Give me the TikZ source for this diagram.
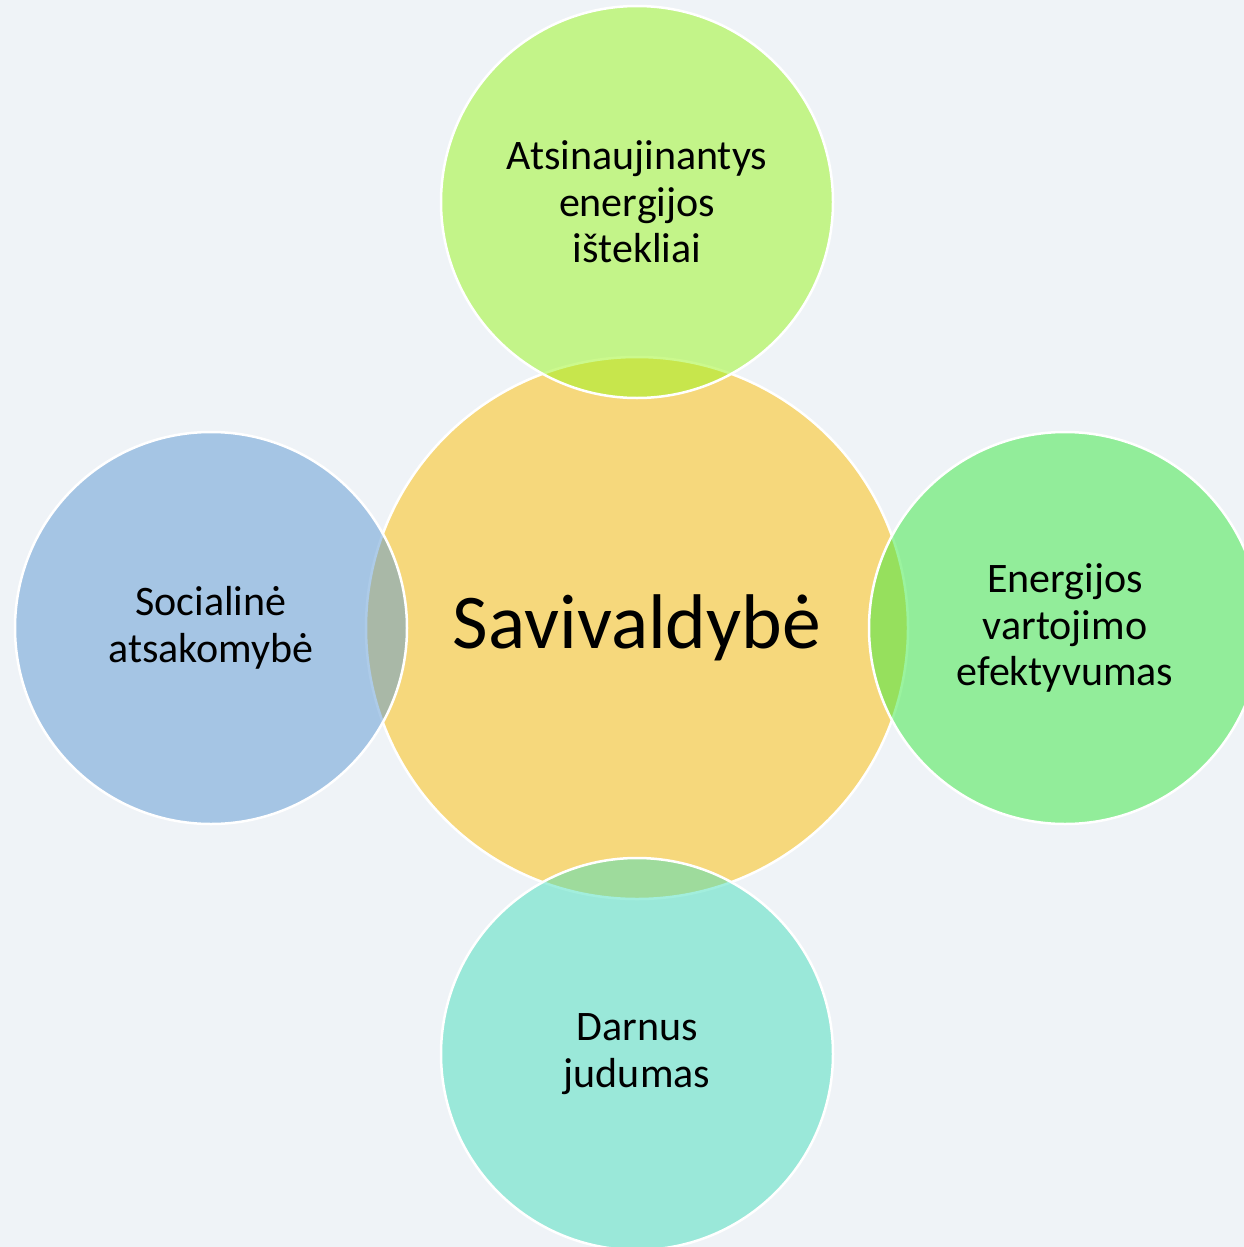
\documentclass[tikz,border=0pt]{standalone}
\usepackage{fontspec}
\setmainfont{Carlito}
\definecolor{bgc}{HTML}{EFF3F7}
\definecolor{cenc}{HTML}{F6D87C}
\definecolor{topc}{HTML}{99F51D}
\definecolor{rightc}{HTML}{37E93F}
\definecolor{leftc}{HTML}{5D99D3}
\definecolor{botc}{HTML}{47DFBD}
\tikzset{
  outer/.style={circle, draw=white, line width=2.5pt, fill opacity=0.5, text opacity=1,
    minimum size=392pt, inner sep=0pt, align=center, font=\fontsize{42}{46.5}\selectfont},
  center/.style={circle, draw=white, line width=2.5pt, fill=cenc,
    minimum size=542pt, inner sep=0pt, font=\fontsize{77.5}{90}\selectfont}
}
\begin{document}
\begin{tikzpicture}[x=1pt,y=-1pt]
\fill[bgc] (0,0) rectangle (1244,1247);
\useasboundingbox (0,0) rectangle (1244,1247);
\clip (0,0) rectangle (1244,1247);
\node[center] (c) at (637,628) {Savivaldybė};
\node[outer, fill=topc] (t) at (637,202) {Atsinaujinantys\\energijos\\ištekliai};
\node[outer, fill=rightc] (r) at (1065,628) {Energijos\\vartojimo\\efektyvumas};
\node[outer, fill=leftc] (l) at (211,628) {Socialinė\\atsakomybė};
\node[outer, fill=botc] (b) at (637,1054) {Darnus\\judumas};
\end{tikzpicture}
\end{document}
